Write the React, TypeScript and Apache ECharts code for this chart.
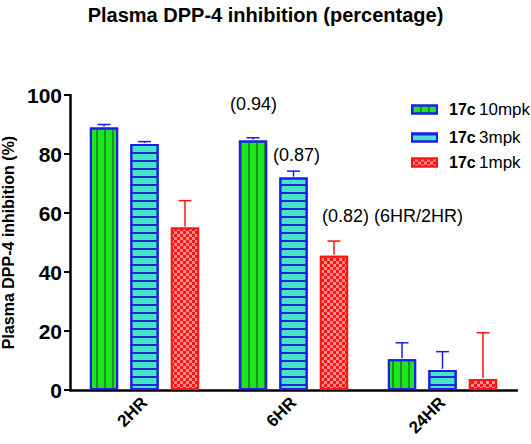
import React, { useEffect, useRef } from 'react';
import * as echarts from 'echarts';

const categories = ['2HR', '6HR', '24HR'];
const seriesNames = ['17c 10mpk', '17c 3mpk', '17c 1mpk'];
const values10 = [89.0, 84.6, 10.4];
const errors10 = [1.0, 0.9, 5.6];
const values3 = [83.4, 72.0, 6.8];
const errors3 = [0.8, 2.2, 6.2];
const values1 = [55.1, 45.5, 3.7];
const errors1 = [9.1, 5.0, 15.7];
const yMin = 0;
const yMax = 100;
const yInterval = 20;
const titleText = 'Plasma DPP-4 inhibition (percentage)';
const yAxisName = 'Plasma DPP-4 inhibition (%)';
const ratioLabels = ['(0.94)', '(0.87)', '(0.82) (6HR/2HR)'];

const FONT = 'Arial, "Liberation Sans", Helvetica, sans-serif';
const BLUE = '#1c1ced';
const RED = '#ff1414';

const BAR_W = 0.19;
const BAR_GAP = 0.43;

export default function App() {
  const ref = useRef<HTMLDivElement>(null);
  useEffect(() => {
    document.body.style.margin = '0';
    const chart = echarts.init(ref.current!, null, { renderer: 'svg' });
    const allValues = [values10, values3, values1];
    const allErrors = [errors10, errors3, errors1];
    const errColors = [BLUE, BLUE, RED];

    const styles = [
      {
        color: '#1ee61e',
        borderColor: BLUE,
        borderWidth: 2,
        decal: {
          symbol: 'rect',
          symbolSize: 1,
          color: '#1f8f2a',
          dashArrayX: [1.4, 5.6],
          dashArrayY: [20, 0],
        },
      },
      {
        color: '#44e6c4',
        borderColor: BLUE,
        borderWidth: 2,
        decal: {
          symbol: 'rect',
          symbolSize: 1,
          color: '#2424d8',
          dashArrayX: [20, 0],
          dashArrayY: [1.5, 5.1],
        },
      },
      {
        color: RED,
        borderColor: RED,
        borderWidth: 2,
        decal: {
          symbol: 'rect',
          symbolSize: 1,
          color: '#ff8f8f',
          dashArrayX: [[3, 3], [0, 3, 3, 0]],
          dashArrayY: [3, 0],
        },
      },
    ];

    const barSeries = seriesNames.map((name, i) => ({
      name,
      type: 'bar',
      data: allValues[i],
      barWidth: BAR_W * 100 + '%',
      barGap: BAR_GAP * 100 + '%',
      itemStyle: styles[i],
      z: 2,
    }));

    const errSeries = seriesNames.map((name, i) => ({
      name: name + ' err',
      type: 'custom',
      z: 5,
      data: categories.map((_, j) => [j, allValues[i][j], allErrors[i][j]]),
      renderItem: (params: any, api: any) => {
        const cat = api.value(0);
        const v = api.value(1);
        const e = api.value(2);
        const base = api.coord([cat, v]);
        const top = api.coord([cat, v + e]);
        const band = api.size([1, 0])[0];
        const x = base[0] + (i - 1) * band * BAR_W * (1 + BAR_GAP);
        const style = { stroke: errColors[i], lineWidth: 1.5, fill: 'none' };
        return {
          type: 'group',
          children: [
            { type: 'line', shape: { x1: x, y1: base[1] - 1, x2: x, y2: top[1] }, style },
            { type: 'line', shape: { x1: x - 6.5, y1: top[1], x2: x + 6.5, y2: top[1] }, style },
          ],
        };
      },
    }));

    const legendRows = [105, 133, 158];
    const legends = seriesNames.map((name, i) => ({
      data: [name],
      left: 406,
      top: legendRows[i] - 9,
      icon: 'rect',
      itemWidth: 25,
      itemHeight: 8,
      selectedMode: false,
      formatter: (n: string) => `{b|17c} {r|${n.replace('17c ', '')}}`,
      textStyle: {
        padding: [0, 0, 0, 7],
        rich: {
          b: { fontFamily: FONT, fontWeight: 'bold', fontSize: 16, color: '#000', lineHeight: 18 },
          r: { fontFamily: FONT, fontSize: 17, color: '#000', lineHeight: 18 },
        },
      },
    }));

    chart.setOption({
      animation: false,
      title: {
        text: titleText,
        left: 'center',
        top: 0,
        textStyle: { fontFamily: FONT, fontWeight: 'bold', fontSize: 20, color: '#000' },
      },
      legend: legends,
      grid: { left: 70, right: 14, top: 95, bottom: 54, containLabel: false, outerBoundsMode: 'none' },
      xAxis: {
        type: 'category',
        data: categories,
        axisLine: { lineStyle: { color: '#000', width: 2.5 } },
        axisTick: { alignWithLabel: true, length: 6, lineStyle: { color: '#000', width: 2 } },
        axisLabel: {
          rotate: 45,
          margin: 10,
          fontFamily: FONT,
          fontWeight: 'bold',
          fontSize: 17,
          color: '#000',
        },
      },
      yAxis: {
        type: 'value',
        min: yMin,
        max: yMax,
        interval: yInterval,
        name: yAxisName,
        nameLocation: 'middle',
        nameRotate: 90,
        nameGap: 50,
        nameTextStyle: { fontFamily: FONT, fontWeight: 'bold', fontSize: 16, color: '#000' },
        splitLine: { show: false },
        axisLine: { show: true, lineStyle: { color: '#000', width: 2.5 } },
        axisTick: { show: true, length: 6, lineStyle: { color: '#000', width: 2 } },
        axisLabel: { margin: 8, fontFamily: FONT, fontWeight: 'bold', fontSize: 21, color: '#000' },
      },
      graphic: [
        {
          type: 'text',
          left: 230,
          top: 95,
          style: { text: ratioLabels[0], fontFamily: FONT, fontSize: 18, fill: '#000' },
        },
        {
          type: 'text',
          left: 273,
          top: 146,
          style: { text: ratioLabels[1], fontFamily: FONT, fontSize: 18, fill: '#000' },
        },
        {
          type: 'text',
          left: 322,
          top: 207,
          style: { text: ratioLabels[2], fontFamily: FONT, fontSize: 18, fill: '#000' },
        },
      ],
      series: [...barSeries, ...errSeries],
    });
    return () => chart.dispose();
  }, []);
  return <div ref={ref} style={{ width: 531, height: 444 }} />;
}
